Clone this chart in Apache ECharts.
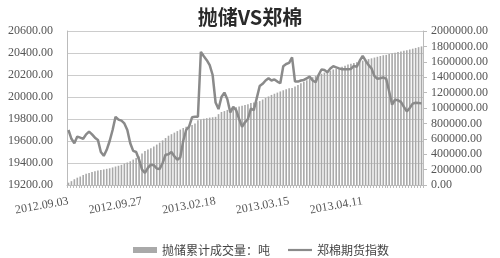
<!DOCTYPE html>
<html><head><meta charset="utf-8">
<script src="https://cdn.jsdelivr.net/npm/echarts@6/dist/echarts.min.js"></script>
<style>html,body{margin:0;padding:0;background:#fff}#c{width:500px;height:258px}</style>
</head><body><div id="c"></div>
<script>
var titleText = '抛储VS郑棉';
var barName = '抛储累计成交量：吨';
var lineName = '郑棉期货指数';
var labeledDates = {0:'2012.09.03',25:'2012.09.27',50:'2013.02.18',75:'2013.03.15',100:'2013.04.11'};
var barValues = [30000,50000,75000,95000,110000,130000,145000,156000,168000,180000,188000,195000,202000,210000,217000,228000,240000,250000,262000,278000,292000,308000,330000,350000,370000,410000,440000,460000,478000,500000,525000,550000,580000,610000,640000,660000,680000,700000,720000,740000,755000,770000,780000,800000,840000,850000,860000,868000,875000,880000,885000,920000,948000,960000,975000,990000,1000000,1010000,1020000,1030000,1040000,1050000,1065000,1070000,1078000,1090000,1110000,1130000,1150000,1170000,1185000,1200000,1215000,1230000,1245000,1255000,1260000,1280000,1300000,1320000,1340000,1360000,1380000,1400000,1415000,1430000,1445000,1460000,1470000,1485000,1500000,1510000,1520000,1535000,1550000,1565000,1575000,1585000,1595000,1605000,1615000,1625000,1635000,1645000,1655000,1665000,1675000,1685000,1690000,1700000,1710000,1718000,1726000,1734000,1742000,1750000,1760000,1770000,1780000,1790000,1800000];
var lineValues = [19700,19620,19580,19640,19630,19620,19660,19685,19660,19630,19610,19500,19465,19520,19600,19700,19820,19795,19785,19760,19700,19580,19510,19500,19430,19340,19310,19355,19385,19380,19350,19345,19400,19475,19480,19500,19460,19430,19450,19600,19700,19730,19815,19820,19820,20410,20370,20335,20290,20200,19950,19890,20000,20040,19980,19860,19910,19880,19800,19730,19770,19800,19895,19880,19990,20100,20120,20150,20170,20150,20160,20140,20125,20280,20300,20310,20360,20140,20140,20150,20155,20170,20185,20150,20135,20200,20250,20245,20225,20260,20280,20270,20260,20252,20252,20252,20255,20282,20275,20330,20373,20330,20290,20260,20190,20165,20170,20178,20165,20050,19930,19975,19970,19955,19910,19870,19900,19940,19948,19945,19942];
var categories = barValues.map(function(_, i){ return labeledDates[i] || ('d' + i); });

var numFont = 'Liberation Serif';
var cjkFont = 'Noto Sans CJK SC';
var chart = echarts.init(document.getElementById('c'), null, {renderer:'canvas'});
chart.setOption({
  animation:false,
  title:{text:titleText,left:'center',top:2,textStyle:{fontFamily:cjkFont,fontSize:20,fontWeight:'bold',color:'#2a2a2a'}},
  grid:{left:67,right:77,top:31,bottom:73,containLabel:false},
  legend:{top:239,left:128,itemGap:18,itemWidth:24,itemHeight:6,
    textStyle:{fontFamily:cjkFont,fontSize:12,color:'#444'},
    data:[{name:barName,icon:'rect'},{name:lineName,icon:'path://M0,0L24,0L24,2.2L0,2.2Z'}]},
  xAxis:{type:'category',data:categories,boundaryGap:true,
    axisLine:{lineStyle:{color:'#bbb'}},
    axisTick:{show:true,interval:0,length:3,lineStyle:{color:'#bbb'}},
    axisLabel:{interval:24,rotate:10,margin:16,fontFamily:numFont,fontSize:12,color:'#555',
      formatter:function(v){return v.charAt(0)==='d'?'':v;}}},
  yAxis:[
    {type:'value',min:19200,max:20600,interval:200,position:'left',
      axisLine:{show:true,lineStyle:{color:'#bbb'}},axisTick:{show:false},
      splitLine:{lineStyle:{color:'#ccc'}},
      axisLabel:{fontFamily:numFont,fontSize:12,color:'#555',margin:14,formatter:function(v){return v.toFixed(2);}}},
    {type:'value',min:0,max:2000000,interval:200000,position:'right',
      axisLine:{show:true,lineStyle:{color:'#bbb'}},axisTick:{show:true,length:4,lineStyle:{color:'#bbb'}},
      splitLine:{show:false},
      axisLabel:{fontFamily:numFont,fontSize:12,color:'#555',margin:8,formatter:function(v){return v.toFixed(2);}}}
  ],
  series:[
    {name:barName,type:'bar',yAxisIndex:1,data:barValues,barWidth:'55%',itemStyle:{color:'#a9a9a9'}},
    {name:lineName,type:'line',yAxisIndex:0,data:lineValues,symbol:'none',lineStyle:{color:'#8a8a8a',width:2.5},itemStyle:{color:'#8a8a8a'}}
  ]
});
</script></body></html>
